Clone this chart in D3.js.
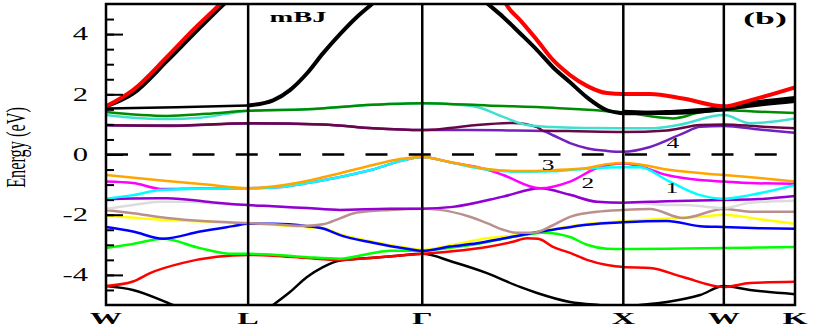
<!DOCTYPE html>
<html>
<head>
<meta charset="utf-8">
<script src="https://cdn.jsdelivr.net/npm/d3@7"></script>
<style>
  body { margin: 0; background: #fff; }
  svg { display: block; }
  text { font-family: "Liberation Serif", "Times New Roman", serif; fill: #000; }
</style>
</head>
<body>
<div id="chart"></div>
<script>
// high symmetry points along the path (k distance, 2pi/a units)
var kPoints = [0, 0.707, 1.573, 2.573, 3.073, 3.427];
var kLabels = ["W", "L", "\u0393", "X", "W", "K"];
var yMajor = [-4, -2, 0, 2, 4];

// valence bands, [k, E] pairs
var vbBlack = [[0,-4.37],[0.134,-4.5],[0.333,-5.0],[0.5,-5.45],[0.707,-5.6],[0.831,-5.0],[0.915,-4.57],[1.0,-4.07],[1.079,-3.74],[1.164,-3.52],[1.328,-3.43],[1.45,-3.36],[1.573,-3.3],[1.726,-3.57],[1.895,-3.94],[2.059,-4.4],[2.144,-4.6],[2.308,-4.9],[2.45,-5.0],[2.573,-5.05],[2.656,-5.0],[2.79,-4.9],[2.955,-4.67],[3.073,-4.37],[3.203,-4.5],[3.427,-4.64]];
var vbRed = [[0,-4.37],[0.134,-4.22],[0.219,-3.94],[0.383,-3.6],[0.552,-3.4],[0.707,-3.34],[0.831,-3.36],[1.0,-3.44],[1.164,-3.5],[1.328,-3.43],[1.495,-3.34],[1.573,-3.3],[1.711,-3.22],[1.895,-3.07],[2.024,-2.9],[2.094,-2.78],[2.15,-2.8],[2.223,-3.07],[2.308,-3.27],[2.392,-3.5],[2.492,-3.67],[2.573,-3.74],[2.706,-3.77],[2.87,-4.07],[3.073,-4.4],[3.203,-4.27],[3.427,-4.23]];
var vbGreen = [[0,-3.11],[0.134,-2.97],[0.284,-2.8],[0.468,-3.11],[0.632,-3.3],[0.707,-3.3],[0.831,-3.33],[1.0,-3.41],[1.164,-3.46],[1.328,-3.27],[1.413,-3.2],[1.573,-3.19],[1.711,-3.1],[1.845,-2.97],[1.975,-2.8],[2.094,-2.66],[2.174,-2.6],[2.308,-2.74],[2.392,-3.0],[2.492,-3.13],[2.573,-3.14],[2.79,-3.13],[3.073,-3.11],[3.25,-3.09],[3.427,-3.07]];
var vbBlue = [[0,-2.41],[0.134,-2.56],[0.284,-2.8],[0.468,-2.56],[0.632,-2.38],[0.707,-2.3],[0.831,-2.3],[1.0,-2.38],[1.079,-2.46],[1.164,-2.68],[1.328,-2.93],[1.495,-3.13],[1.573,-3.2],[1.711,-3.06],[1.845,-2.95],[1.975,-2.79],[2.094,-2.64],[2.223,-2.5],[2.392,-2.33],[2.573,-2.25],[2.79,-2.21],[2.955,-2.38],[3.073,-2.41],[3.25,-2.45],[3.427,-2.47]];
var vbYellow = [[0,-2.03],[0.284,-2.17],[0.468,-2.22],[0.707,-2.3],[0.831,-2.33],[1.0,-2.42],[1.079,-2.45],[1.164,-2.65],[1.328,-2.9],[1.495,-3.1],[1.573,-3.17],[1.726,-3.0],[1.895,-2.78],[2.059,-2.67],[2.223,-2.48],[2.392,-2.31],[2.573,-2.22],[2.79,-2.13],[2.955,-2.07],[3.073,-2.0],[3.25,-2.15],[3.427,-2.3]];
var vbBrown = [[0,-1.84],[0.134,-1.95],[0.303,-2.11],[0.5,-2.22],[0.707,-2.28],[0.831,-2.32],[1.0,-2.37],[1.079,-2.32],[1.164,-2.12],[1.248,-1.93],[1.413,-1.84],[1.573,-1.8],[1.661,-1.84],[1.81,-2.07],[1.895,-2.28],[1.975,-2.5],[2.044,-2.6],[2.124,-2.6],[2.223,-2.35],[2.308,-2.07],[2.442,-1.9],[2.573,-1.84],[2.706,-1.81],[2.87,-2.11],[3.073,-1.81],[3.203,-1.9],[3.427,-1.9]];
var vbGrey = [[0,-1.81],[0.134,-1.68],[0.27,-1.57],[0.383,-1.57],[0.55,-1.63],[0.707,-1.68],[0.831,-1.72],[1.0,-1.78],[1.164,-1.84],[1.413,-1.8],[1.573,-1.8],[1.726,-1.74],[1.975,-1.4],[2.159,-1.12],[2.308,-1.34],[2.442,-1.57],[2.573,-1.6],[2.656,-1.62],[2.79,-1.68],[2.87,-1.68],[3.073,-1.78],[3.203,-1.6],[3.427,-1.54]];
var vbViolet = [[0,-1.49],[0.134,-1.46],[0.303,-1.45],[0.552,-1.6],[0.707,-1.68],[0.831,-1.72],[1.0,-1.78],[1.164,-1.84],[1.413,-1.8],[1.573,-1.8],[1.726,-1.74],[1.975,-1.4],[2.159,-1.12],[2.308,-1.34],[2.442,-1.57],[2.573,-1.6],[2.79,-1.55],[3.073,-1.51],[3.25,-1.48],[3.427,-1.38]];
var vbMagenta = [[0,-0.9],[0.134,-0.95],[0.284,-1.15],[0.45,-1.13],[0.707,-1.12],[0.831,-1.1],[1.0,-0.95],[1.164,-0.75],[1.328,-0.5],[1.462,-0.22],[1.573,-0.08],[1.711,-0.26],[1.895,-0.5],[1.975,-0.68],[2.159,-1.12],[2.308,-0.9],[2.442,-0.45],[2.573,-0.3],[2.632,-0.35],[2.79,-0.68],[2.955,-0.85],[3.073,-0.9],[3.203,-0.95],[3.427,-0.97]];
var vbCyan = [[0,-1.47],[0.134,-1.35],[0.27,-1.18],[0.45,-1.14],[0.707,-1.12],[0.831,-1.1],[1.0,-0.95],[1.164,-0.75],[1.328,-0.5],[1.462,-0.22],[1.573,-0.08],[1.711,-0.26],[1.895,-0.5],[2.059,-0.57],[2.223,-0.56],[2.392,-0.47],[2.492,-0.43],[2.573,-0.42],[2.656,-0.42],[2.79,-0.85],[2.955,-1.35],[3.073,-1.47],[3.203,-1.35],[3.427,-1.01]];
var vbOrange = [[0,-0.68],[0.303,-0.88],[0.5,-1.0],[0.707,-1.12],[0.831,-1.06],[1.0,-0.88],[1.164,-0.62],[1.328,-0.35],[1.462,-0.15],[1.573,-0.08],[1.711,-0.25],[1.895,-0.48],[2.059,-0.55],[2.223,-0.52],[2.392,-0.45],[2.492,-0.32],[2.573,-0.28],[2.656,-0.33],[2.79,-0.5],[3.073,-0.68],[3.25,-0.78],[3.427,-0.9]];

// conduction bands
var cbIndigo = [[0,0.97],[0.3,0.95],[0.707,1.03],[1.079,1.0],[1.328,0.87],[1.573,0.81],[1.8,0.81],[2.0,0.8],[2.174,0.78],[2.223,0.64],[2.308,0.38],[2.392,0.21],[2.492,0.12],[2.573,0.09],[2.706,0.25],[2.87,0.7],[2.955,0.92],[3.073,0.95],[3.25,0.83],[3.427,0.72]];
var cbMaroon = [[0,0.98],[0.3,0.96],[0.707,1.04],[1.079,1.0],[1.328,0.87],[1.573,0.81],[1.711,0.88],[1.845,0.98],[2.024,1.05],[2.144,0.91],[2.174,0.79],[2.3,0.78],[2.573,0.75],[2.79,0.8],[2.955,0.98],[3.073,1.0],[3.25,0.93],[3.427,0.87]];
var cbTurquoise = [[0,1.31],[0.134,1.22],[0.303,1.18],[0.468,1.22],[0.6,1.35],[0.707,1.45],[1.0,1.5],[1.328,1.65],[1.573,1.7],[1.711,1.67],[1.845,1.58],[1.975,1.25],[2.094,0.98],[2.223,0.91],[2.392,0.88],[2.573,0.87],[2.706,0.87],[2.84,0.97],[3.073,1.31],[3.203,1.04],[3.427,1.2]];
var cbGreen4 = [[0,1.41],[0.303,1.28],[0.5,1.35],[0.707,1.45],[1.0,1.5],[1.328,1.65],[1.573,1.7],[1.711,1.68],[1.895,1.63],[2.223,1.55],[2.573,1.4],[2.82,1.2],[2.955,1.4],[3.073,1.47],[3.25,1.42],[3.427,1.38]];
var cbBlackFlat = [[0,1.53],[0.35,1.57],[0.707,1.63]];
var cbBlackUp = [[0.707,1.63],[0.831,1.8],[0.915,2.14],[1.0,2.7],[1.079,3.36],[1.164,4.0],[1.248,4.57],[1.323,5.0],[1.45,5.8],[1.573,6.3],[1.8,5.6],[1.9,5.0],[1.975,4.57],[2.059,4.03],[2.144,3.47],[2.223,2.9],[2.308,2.4],[2.392,1.9],[2.492,1.47],[2.557,1.38],[2.573,1.37],[2.79,1.41],[3.073,1.55],[3.2,1.7],[3.427,1.88]];
var cbBlackB = [[0,1.6],[0.134,2.02],[0.303,3.1],[0.433,3.98],[0.587,5.0],[0.67,5.5],[1.0,null],[2.573,1.42],[2.79,1.38],[3.073,1.5],[3.2,1.62],[3.427,1.78]];
var cbRed = [[0,1.6],[0.134,2.14],[0.303,3.24],[0.433,4.14],[0.567,5.0],[0.65,5.6],[1.0,null],[1.95,5.6],[1.99,5.0],[2.059,4.47],[2.144,3.8],[2.223,3.14],[2.308,2.64],[2.392,2.28],[2.492,2.04],[2.573,2.01],[2.706,2.01],[2.87,1.86],[3.073,1.6],[3.203,1.8],[3.427,2.23]];

// numbered markers in the gap region
var markText = ["1", "2", "3", "4"];
var markK = [2.815, 2.397, 2.199, 2.82];
var markE = [-1.11, -0.95, -0.35, 0.38];

var bands = [
  { pts: vbBlack, color: "#000000", w: 2.5 },
  { pts: vbRed, color: "#ff0000", w: 2.5 },
  { pts: vbGreen, color: "#00ff00", w: 2.5 },
  { pts: vbYellow, color: "#ffff00", w: 2.5 },
  { pts: vbBlue, color: "#0000ff", w: 2.5 },
  { pts: vbBrown, color: "#bc8f8f", w: 2.5 },
  { pts: vbGrey, color: "#dcdcdc", w: 2.5 },
  { pts: vbViolet, color: "#9400d3", w: 2.5 },
  { pts: vbMagenta, color: "#ff00ff", w: 2.5 },
  { pts: vbCyan, color: "#00ffff", w: 2.5 },
  { pts: vbOrange, color: "#ffa500", w: 2.5 },
  { pts: cbIndigo, color: "#7221bc", w: 2.5 },
  { pts: cbMaroon, color: "#670748", w: 2.5 },
  { pts: cbTurquoise, color: "#40e0d0", w: 2.5 },
  { pts: cbGreen4, color: "#008b00", w: 2.5 },
  { pts: cbBlackFlat, color: "#000000", w: 2.5 },
  { pts: cbBlackUp, color: "#000000", w: 4 },
  { pts: cbBlackB, color: "#000000", w: 4 },
  { pts: cbRed, color: "#ff0000", w: 4 }
];

var width = 814;
var height = 327;
var plotL = 106, plotR = 795, plotT = 4, plotB = 305;

var svg = d3.select("#chart").append("svg")
  .attr("width", width)
  .attr("height", height);

var x = d3.scaleLinear().domain([kPoints[0], kPoints[kPoints.length - 1]]).range([plotL, plotR]);
var y = d3.scaleLinear().domain([-5, 5]).range([plotB, plotT]);

svg.append("clipPath").attr("id", "plot")
  .append("rect")
  .attr("x", plotL).attr("y", plotT)
  .attr("width", plotR - plotL).attr("height", plotB - plotT);

/* bands */
var line = d3.line()
  .defined(d => d[1] !== null)
  .x(d => x(d[0]))
  .y(d => y(d[1]))
  .curve(d3.curveMonotoneX);

svg.append("g")
  .attr("clip-path", "url(#plot)")
  .selectAll("path")
  .data(bands)
  .enter()
  .append("path")
  .attr("d", d => line(d.pts))
  .attr("fill", "none")
  .attr("stroke", d => d.color)
  .attr("stroke-width", d => d.w)
  .attr("stroke-linejoin", "round");

/* fermi level */
svg.append("line")
  .attr("x1", x(kPoints[0])).attr("x2", x(kPoints[kPoints.length - 1]))
  .attr("y1", y(0)).attr("y2", y(0))
  .attr("stroke", "#000")
  .attr("stroke-width", 2.5)
  .attr("stroke-dasharray", "22,21.25");

/* symmetry lines */
svg.append("g")
  .selectAll("line")
  .data(kPoints.slice(1, -1))
  .enter()
  .append("line")
  .attr("x1", d => x(d)).attr("x2", d => x(d))
  .attr("y1", plotT).attr("y2", plotB)
  .attr("stroke", "#000")
  .attr("stroke-width", 2.5);

/* y axis, ticks pointing inwards */
var yAxisMinor = d3.axisLeft(y)
  .tickValues(d3.range(-4.5, 5, 0.5))
  .tickSize(-8)
  .tickFormat("");
var yAxis = d3.axisLeft(y)
  .tickValues(yMajor)
  .tickSize(-17)
  .tickPadding(18)
  .tickFormat(d => String(d));

var gMinor = svg.append("g").attr("transform", `translate(${plotL},0)`).call(yAxisMinor);
var gMajor = svg.append("g").attr("transform", `translate(${plotL},0)`).call(yAxis);
svg.selectAll(".domain").remove();
svg.selectAll(".tick line").attr("stroke", "#000").attr("stroke-width", 2);
gMajor.selectAll("text")
  .attr("x", -18 / 1.7)
  .attr("transform", "scale(1.7,1)")
  .style("font-size", "18px")
  .style("font-family", "'Liberation Serif', serif");

/* frame */
svg.append("rect")
  .attr("x", plotL).attr("y", plotT)
  .attr("width", plotR - plotL).attr("height", plotB - plotT)
  .attr("fill", "none")
  .attr("stroke", "#000")
  .attr("stroke-width", 2.5);

/* k labels */
svg.append("g")
  .selectAll("text")
  .data(kPoints)
  .enter()
  .append("text")
  .attr("transform", d => `translate(${x(d)},${plotB + 19}) scale(1.9,1)`)
  .attr("text-anchor", "middle")
  .style("font-size", "17px")
  .style("font-weight", "bold")
  .text((d, i) => kLabels[i]);

/* y title */
svg.append("text")
  .attr("transform", `translate(25,${(plotT + plotB) / 2 - 7}) rotate(-90) scale(1,1.65)`)
  .attr("text-anchor", "middle")
  .style("font-size", "16.3px")
  .text("Energy (eV)");

/* panel texts */
svg.append("text")
  .attr("transform", "translate(298,22) scale(1.9,1)")
  .attr("text-anchor", "middle")
  .style("font-size", "15px")
  .style("font-weight", "bold")
  .text("mBJ");

svg.append("text")
  .attr("transform", "translate(765,24) scale(2.1,1)")
  .attr("text-anchor", "middle")
  .style("font-size", "17px")
  .style("font-weight", "bold")
  .text("(b)");

svg.append("g")
  .selectAll("text")
  .data(markText)
  .enter()
  .append("text")
  .attr("transform", (d, i) => `translate(${x(markK[i])},${y(markE[i])}) scale(1.7,1)`)
  .attr("text-anchor", "middle")
  .attr("dy", "0.35em")
  .style("font-size", "15px")
  .text(d => d);
</script>
</body>
</html>
